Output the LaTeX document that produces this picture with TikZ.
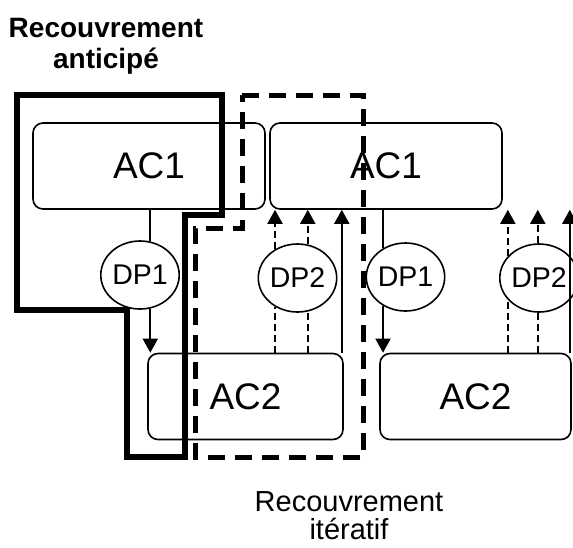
\documentclass[tikz,border=0pt]{standalone}
\usepackage{fontspec}
\setmainfont{Liberation Sans}
\usetikzlibrary{shapes.geometric, arrows.meta}

\begin{document}
\begin{tikzpicture}[x=1pt, y=-1pt,
  act/.style={rectangle, draw, line width=1.6pt, rounded corners=10pt,
  inner sep=0pt, minimum height=86pt, font=\fontsize{37}{40}\selectfont},
  dp/.style={ellipse, draw, line width=1.6pt, minimum width=78pt,
  minimum height=68pt, inner sep=0pt, font=\fontsize{28.5}{30}\selectfont},
  flow/.style={line width=1.8pt},
  dflow/.style={line width=2pt, dash pattern=on 7pt off 4pt},
  flowtip/.style={-{Triangle[width=15pt,length=14pt]}},
  zone/.style={line width=5.5pt},
  itzone/.style={line width=5pt, dash pattern=on 17pt off 10pt},
  title/.style={align=center}]
  \useasboundingbox (0,0) rectangle (573,547);
  \clip (0,0) rectangle (573,547);

  \node[act, minimum width=232pt] (ac1a) at (149,166) {AC1};
  \node[act, minimum width=232pt] (ac1b) at (386,166) {AC1};
  \node[act, minimum width=195pt] (ac2a) at (245.5,396.5) {AC2};
  \node[act, minimum width=191pt] (ac2b) at (475.5,396.5) {AC2};

  \node[dp] (dp1a) at (140,275) {DP1};
  \node[dp] (dp2a) at (297.5,278) {DP2};
  \node[dp] (dp1b) at (405.5,277) {DP1};
  \node[dp] (dp2b) at (539,278) {DP2};

  \draw[flow] (dp1a.73 |- ac1a.south) -- (dp1a.73);
  \draw[flow, flowtip] (dp1a.-73) -- (dp1a.-73 |- ac2a.north);

  \draw[dflow] (dp2a.-128 |- ac2a.north) -- (dp2a.-128);
  \draw[dflow, flowtip] (dp2a.128) -- (dp2a.128 |- ac1b.south);
  \draw[dflow] (dp2a.-73 |- ac2a.north) -- (dp2a.-73);
  \draw[dflow, flowtip] (dp2a.73) -- (dp2a.73 |- ac1b.south);
  \draw[flow, flowtip] ([xshift=-2pt]ac2a.north east) -- ([xshift=-2pt]ac2a.north east |- ac1b.south);

  \draw[flow] (dp1b.128 |- ac1b.south) -- (dp1b.128);
  \draw[flow, flowtip] (dp1b.-128) -- (dp1b.-128 |- ac2b.north);
  \draw[dflow] (dp2b.-145 |- ac2b.north) -- (dp2b.-145);
  \draw[dflow, flowtip] (dp2b.145) -- (dp2b.145 |- ac1b.south);
  \draw[dflow] (dp2b.-92 |- ac2b.north) -- (dp2b.-92);
  \draw[dflow, flowtip] (dp2b.92) -- (dp2b.92 |- ac1b.south);
  \draw[flow, flowtip] ([xshift=-2pt]ac2b.north east) -- ([xshift=-2pt]ac2b.north east |- ac1b.south);

  \draw[zone] (17,95) -- (222,95) -- (222,215) -- (185,215) -- (185,457)
    -- (127,457) -- (127,310) -- (17,310) -- cycle;
  \draw[itzone] (242,95) -- (363,95) -- (363,457) -- (195,457) -- (195,228)
    -- (242,228) -- cycle;

  \node[title, font=\bfseries\fontsize{28}{31}\selectfont] (antic) at (106,46)
    {Recouvrement\\anticipé};
  \node[title, font=\fontsize{29}{28}\selectfont] (iter) at (349,516)
    {Recouvrement\\itératif};
\end{tikzpicture}
\end{document}
